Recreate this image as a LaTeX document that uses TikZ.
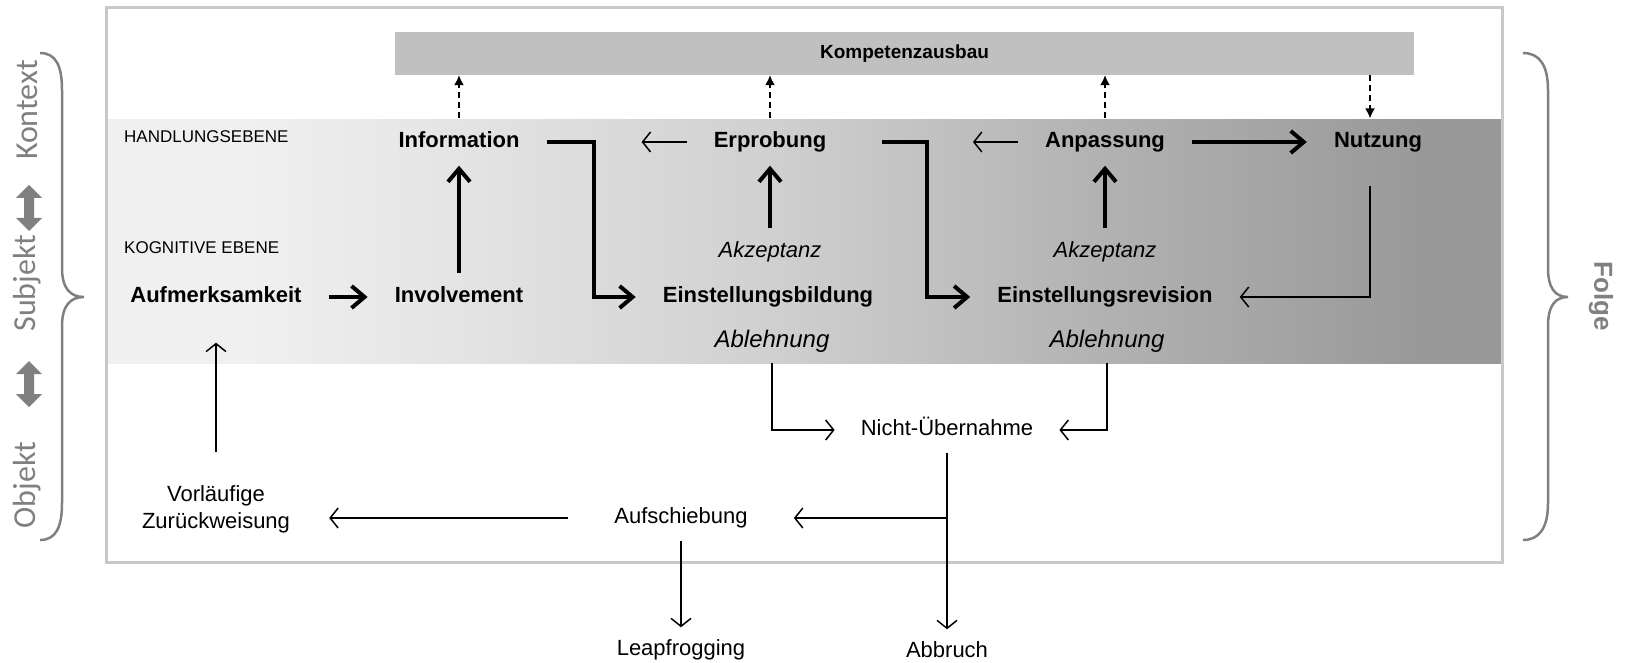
\documentclass[tikz,border=0pt]{standalone}
\usepackage{fontspec}
\setmainfont{Liberation Sans}
\newfontfamily\sidefont{Carlito}
\usetikzlibrary{arrows.meta}

\definecolor{framegray}{HTML}{C8C8C8}
\definecolor{barfill}{HTML}{C0C0C0}
\definecolor{sidegray}{HTML}{808080}
\definecolor{bandl}{HTML}{F0F0F0}
\definecolor{bandma}{HTML}{E4E4E4}
\definecolor{bandmb}{HTML}{D0D0D0}
\definecolor{bandmc}{HTML}{B2B2B2}
\definecolor{bandr}{HTML}{999999}
\pgfdeclarehorizontalshading{bandshade}{100bp}{color(0bp)=(bandl); color(30bp)=(bandl);
  color(37.6bp)=(bandma); color(48.7bp)=(bandmb); color(60.6bp)=(bandmc);
  color(72bp)=(bandr); color(100bp)=(bandr)}

\begin{document}
\begin{tikzpicture}[x=1pt,y=-1pt,
  lbl/.style={font=\fontsize{22}{26}\selectfont\bfseries, text height=16pt, text depth=5pt, inner xsep=27pt, inner ysep=13pt},
  acc/.style={lbl, font=\fontsize{22}{26}\selectfont\itshape},
  rej/.style={font=\fontsize{24}{28}\selectfont\itshape, inner sep=0pt},
  result/.style={font=\fontsize{22}{26}\selectfont, text height=16pt, text depth=5pt, inner xsep=26pt, inner ysep=12pt},
  lvl/.style={font=\fontsize{17}{20}\selectfont, anchor=west, inner sep=0pt},
  sidelabel/.style={font=\sidefont\fontsize{32}{36}\selectfont, text=sidegray, inner sep=0pt},
  strong/.style={line width=4pt, -{Straight Barb[length=13pt,width=22pt]}},
  weak/.style={line width=1.5pt, -{Straight Barb[length=8pt,width=20pt]}},
  feed/.style={line width=1.5pt, dash pattern=on 6pt off 4pt, -{Latex[length=10pt,width=10pt]}}]
\useasboundingbox (0,0) rectangle (1625,663);
%\draw[help lines] (0,0) grid[step=100] (1625,663);

% frame, band and top bar
\node[shade, shading=bandshade, minimum width=1394pt, minimum height=243pt, inner sep=0pt] (band) at (805,241.5) {};
\draw[framegray, line width=3pt] (106,8) rectangle (1502,562);
\node[fill=barfill, minimum width=1019pt, minimum height=43pt, inner sep=0pt,
  font=\fontsize{19}{22}\selectfont\bfseries] (komp) at (904.5,53.5) {Kompetenzausbau};

% levels
\node[lvl] (hand) at (124,137) {HANDLUNGSEBENE};
\node[lvl] (kogn) at (124,248) {KOGNITIVE EBENE};

% action and cognitive stages
\node[lbl] (info) at (459,142) {Information};
\node[lbl] (erpr) at (770,142) {Erprobung};
\node[lbl] (anpa) at (1105,142) {Anpassung};
\node[lbl] (nutz) at (1378,142) {Nutzung};
\node[lbl] (aufm) at (216,297) {Aufmerksamkeit};
\node[lbl] (invo) at (459,297) {Involvement};
\node[lbl] (bild) at (768,297) {Einstellungsbildung};
\node[lbl] (revi) at (1105,297) {Einstellungsrevision};
\node[acc] (akza) at (770,252) {Akzeptanz};
\node[acc] (akzb) at (1105,252) {Akzeptanz};
\node[rej] (abla) at (772,341) {Ablehnung};
\node[rej] (ablb) at (1107,341) {Ablehnung};

% outcomes
\node[result] (nicht) at (947,430) {Nicht-Übernahme};
\node[result, inner xsep=46pt] (aufs) at (681,518) {Aufschiebung};
\node[result, text height=, text depth=, align=center, inner xsep=39pt, inner ysep=33pt,
  font=\fontsize{22}{27}\selectfont] (vorl) at (216,509) {Vorläufige\\Zurückweisung};
\node[result] (leap) at (681,650) {Leapfrogging};
\node[result] (abbr) at (947,652) {Abbruch};

% side labels and braces
\node[sidelabel, rotate=90] (kont) at (27,110) {Kontext};
\node[sidelabel, rotate=90] (subj) at (27,283) {Subjekt};
\node[sidelabel, rotate=90] (obje) at (27,485) {Objekt};
\foreach \y in {208,384}
  \fill[sidegray, shift={(29,\y)}] (0,-23) -- (13,-10) -- (5,-10) -- (5,10) -- (13,10)
    -- (0,23) -- (-13,10) -- (-5,10) -- (-5,-10) -- (-13,-10) -- cycle;
\draw[sidegray, line width=2.5pt] (40,53) .. controls (56,53) and (62,66) .. (62,90) -- (62,268)
  .. controls (62,288) and (70,297) .. (84,297) .. controls (70,297) and (62,306) .. (62,326)
  -- (62,503) .. controls (62,527) and (56,540) .. (40,540);
\draw[sidegray, line width=2.5pt] (1523,53) .. controls (1540,53) and (1548,66) .. (1548,90) -- (1548,268)
  .. controls (1548,288) and (1555,297) .. (1568,297) .. controls (1555,297) and (1548,306) .. (1548,326)
  -- (1548,503) .. controls (1548,527) and (1540,540) .. (1523,540);
\node[font=\fontsize{26}{30}\selectfont\bfseries, text=sidegray, rotate=-90, inner sep=0pt] (folg) at (1601,296) {Folge};

% connectors
\foreach \n in {info,erpr,anpa}
  \draw[feed] (\n.north) -- (\n.north |- komp.south);
\draw[feed] ([xshift=-8pt]nutz.north |- komp.south) -- ([xshift=-8pt]nutz.north);

\draw[strong] (aufm.east) -- (invo.west);
\draw[strong] (invo.north) -- (info.south);
\draw[strong] (akza.north) -- (erpr.south);
\draw[strong] (akzb.north) -- (anpa.south);
\draw[strong] (anpa.east) -- (nutz.west);
\draw[strong] (info.east) -- ++(47,0) |- (bild.west);
\draw[strong] ([xshift=29pt]erpr.east) -- ++(45,0) |- (revi.west);

\draw[weak] (erpr.west) -- ++(-45,0);
\draw[weak] (anpa.west) -- ++(-45,0);
\draw[weak] ([xshift=-8pt,yshift=-20pt]nutz.south) |- (revi.east);
\draw[weak] (abla |- band.south) |- (nicht.west);
\draw[weak] (ablb |- band.south) |- (nicht.east);
\draw[weak] (nicht.south) -- (abbr.north);
\draw[weak] (nicht.south |- aufs) -- (aufs.east);
\draw[weak] (aufs.west) -- (aufs.west -| vorl.east);
\draw[weak] (aufs.south) -- (leap.north);
\draw[weak] (vorl.north) -- ([yshift=-22pt]aufm.south);
\end{tikzpicture}
\end{document}
